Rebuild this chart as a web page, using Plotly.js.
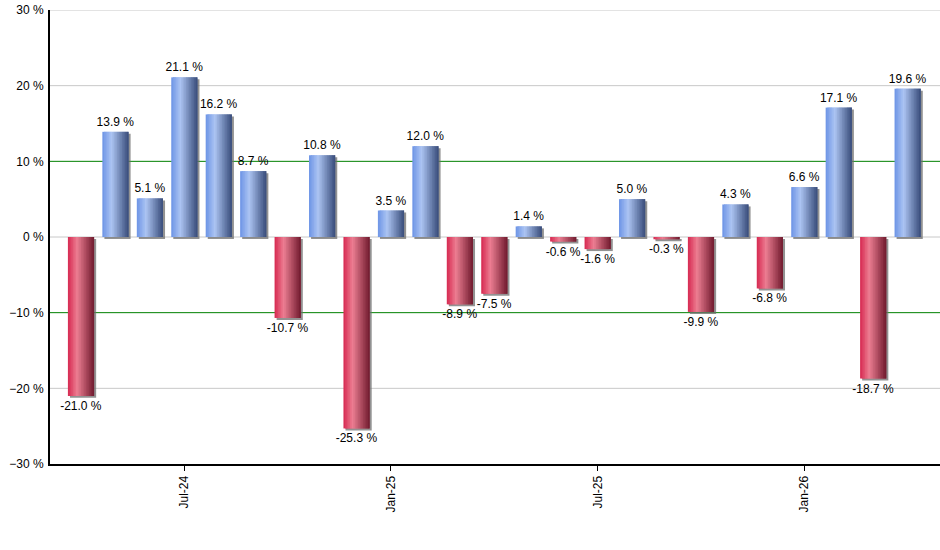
<!DOCTYPE html>
<html>
<head>
<meta charset="utf-8">
<script src="https://cdn.plot.ly/plotly-3.0.1.min.js"></script>
<style>
  html, body { margin: 0; padding: 0; background: #fff; }
  #chart { width: 940px; height: 550px; }
</style>
</head>
<body>
<div id="chart"></div>
<script>
// monthly returns, Apr-24 .. Apr-26
const months = [
    'Apr-24', 'May-24', 'Jun-24', 'Jul-24', 'Aug-24', 'Sep-24', 'Oct-24', 'Nov-24', 'Dec-24',
    'Jan-25', 'Feb-25', 'Mar-25', 'Apr-25', 'May-25', 'Jun-25', 'Jul-25', 'Aug-25', 'Sep-25',
    'Oct-25', 'Nov-25', 'Dec-25', 'Jan-26', 'Feb-26', 'Mar-26', 'Apr-26'
];
const returns = [
    -21.0, 13.9, 5.1, 21.1, 16.2, 8.7, -10.7, 10.8, -25.3,
    3.5, 12.0, -8.9, -7.5, 1.4, -0.6, -1.6, 5.0, -0.3,
    -9.9, 4.3, -6.8, 6.6, 17.1, -18.7, 19.6
];
const tickMonths = ['Jul-24', 'Jan-25', 'Jul-25', 'Jan-26'];
const grayLines = [-20, 0, 20, 30];
const bandLines = [-10, 10];

const BAR_W = 0.76;
const SLICES = 16;

// cylinder-ish shading, left -> highlight -> dark right
const upStops = [[0, [108, 148, 230]], [0.35, [172, 196, 242]], [1, [56, 76, 122]]];
const downStops = [[0, [214, 40, 80]], [0.35, [236, 126, 146]], [1, [112, 26, 46]]];

function shade(stops, t) {
    for (let i = 1; i < stops.length; i++) {
        if (t <= stops[i][0]) {
            const a = stops[i - 1], b = stops[i];
            const f = (t - a[0]) / (b[0] - a[0]);
            const c = a[1].map((v, k) => Math.round(v + (b[1][k] - v) * f));
            return 'rgb(' + c.join(',') + ')';
        }
    }
    return 'rgb(' + stops[stops.length - 1][1].join(',') + ')';
}

const traces = [];

// drop shadow
traces.push({
    type: 'bar', x: months, y: returns,
    base: -0.26,
    width: BAR_W, offset: -BAR_W / 2 + 0.06,
    marker: { color: 'rgba(110,110,110,0.75)', line: { width: 0 } },
    hoverinfo: 'skip', showlegend: false
});

// slices overlap the next one so no seams show
const sw = BAR_W / SLICES;
for (let i = 0; i < SLICES; i++) {
    const t = (i + 0.5) / SLICES;
    const up = shade(upStops, t), down = shade(downStops, t);
    traces.push({
        type: 'bar', x: months, y: returns,
        width: Math.min(2 * sw, BAR_W - i * sw), offset: -BAR_W / 2 + i * sw,
        marker: { color: returns.map(v => v >= 0 ? up : down), line: { width: 0 } },
        hoverinfo: 'skip', showlegend: false
    });
}

// value labels
traces.push({
    type: 'bar', x: months, y: returns,
    width: BAR_W, offset: -BAR_W / 2,
    marker: { color: 'rgba(0,0,0,0)', line: { width: 0 } },
    text: returns.map(v => v.toFixed(1) + ' %'),
    textposition: 'outside', cliponaxis: false,
    constraintext: 'none',
    textfont: { family: 'Liberation Sans, Arial, sans-serif', size: 12, color: '#000' },
    outsidetextfont: { family: 'Liberation Sans, Arial, sans-serif', size: 12, color: '#000' },
    hoverinfo: 'skip', showlegend: false
});

const hline = (v, color) => ({
    type: 'line', xref: 'paper', yref: 'y',
    x0: 0, x1: 1, y0: v, y1: v,
    line: { color: color, width: 1 },
    layer: 'below'
});

const layout = {
    width: 940, height: 550,
    margin: { l: 50, r: 0, t: 10, b: 86, pad: 0 },
    barmode: 'overlay',
    plot_bgcolor: '#fff', paper_bgcolor: '#fff',
    font: { family: 'Liberation Sans, Arial, sans-serif', size: 12, color: '#000' },
    showlegend: false,
    xaxis: {
        type: 'category',
        range: [-0.9, 24.94],
        tickvals: tickMonths, ticktext: tickMonths,
        tickangle: -90,
        ticks: 'outside', ticklen: 5, tickcolor: '#000', tickwidth: 1,
        showline: true, linecolor: '#000', linewidth: 2,
        showgrid: false, zeroline: false,
        tickfont: { size: 12 }
    },
    yaxis: {
        range: [-30, 30],
        dtick: 10, tick0: 0,
        ticksuffix: ' %',
        ticks: '', ticklabelstandoff: 2,
        showline: true, linecolor: '#000', linewidth: 2,
        showgrid: false,
        zeroline: false,
        tickfont: { size: 12 }
    },
    shapes: grayLines.map(v => hline(v, '#c8c8c8'))
        .concat(bandLines.map(v => hline(v, '#008000')))
};

Plotly.newPlot('chart', traces, layout, { displayModeBar: false, staticPlot: true });
</script>
</body>
</html>
